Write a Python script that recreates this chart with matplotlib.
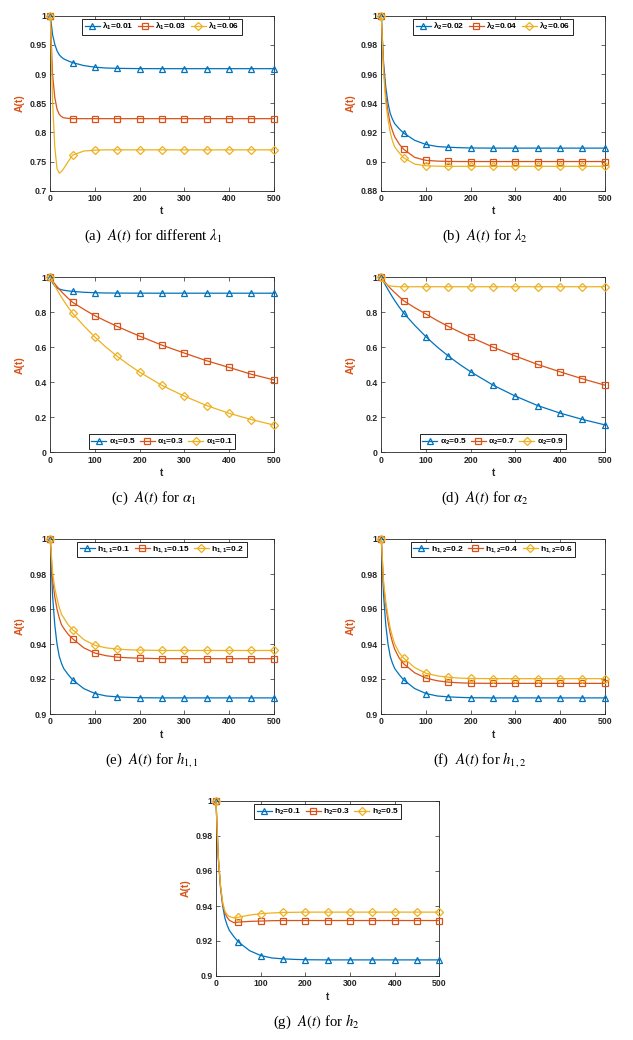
import matplotlib
matplotlib.use("Agg")
import matplotlib.pyplot as plt

plt.rcParams["font.family"] = ["Liberation Sans", "DejaVu Sans"]
plt.rcParams["mathtext.fontset"] = "custom"
plt.rcParams["mathtext.rm"] = "Liberation Sans:bold"
plt.rcParams["mathtext.it"] = "Liberation Sans:italic:bold"
plt.rcParams["mathtext.bf"] = "Liberation Sans:bold"

BLUE, RED, YELLOW = "#0072BD", "#D95319", "#EDB120"
AXC = "#262626"

# time grid, markers sit on the multiples of 50
T = [0, 5, 10, 15, 20, 25, 30, 40, 50, 75, 100, 125, 150, 175, 200,
     250, 300, 350, 400, 450, 500]

# reference curve (blue) shared by several panels
BASE = [1.000, 0.968, 0.951, 0.940, 0.933, 0.929, 0.926, 0.9225, 0.9195,
        0.9145, 0.9117, 0.9103, 0.9098, 0.9095, 0.9093,
        0.9092, 0.9092, 0.9092, 0.9092, 0.9092, 0.9092]

# (a) lambda_1
A_RED = [1.000, 0.900, 0.860, 0.840, 0.831, 0.827, 0.825, 0.824, 0.8235,
         0.8235, 0.8235, 0.8235, 0.8235, 0.8235, 0.8235,
         0.8235, 0.8235, 0.8235, 0.8235, 0.8235, 0.8235]
A_YEL = [1.000, 0.855, 0.775, 0.738, 0.730, 0.733, 0.738, 0.750, 0.761,
         0.768, 0.7695, 0.770, 0.770, 0.770, 0.770,
         0.770, 0.770, 0.770, 0.770, 0.770, 0.770]

# (b) lambda_2
B_RED = [1.000, 0.965, 0.945, 0.934, 0.926, 0.921, 0.917, 0.912, 0.9084,
         0.9028, 0.9008, 0.9003, 0.9001, 0.9000, 0.9000,
         0.9000, 0.9000, 0.9000, 0.9000, 0.9000, 0.9000]
B_YEL = [1.000, 0.962, 0.941, 0.929, 0.920, 0.914, 0.910, 0.906, 0.9026,
         0.8982, 0.8971, 0.8968, 0.8967, 0.8967, 0.8967,
         0.8967, 0.8967, 0.8967, 0.8967, 0.8967, 0.8967]

# (c) alpha_1
C_RED = [1.000, 0.980, 0.963, 0.947, 0.932, 0.918, 0.905, 0.880, 0.857,
         0.817, 0.780, 0.749, 0.719, 0.691, 0.664,
         0.612, 0.567, 0.523, 0.485, 0.446, 0.414]
C_YEL = [1.000, 0.975, 0.952, 0.929, 0.907, 0.886, 0.866, 0.829, 0.794,
         0.723, 0.658, 0.600, 0.548, 0.501, 0.458,
         0.382, 0.321, 0.267, 0.223, 0.187, 0.156]

# (d) alpha_2
D_BLUE = [1.000, 0.975, 0.952, 0.930, 0.908, 0.887, 0.867, 0.830, 0.796,
          0.725, 0.660, 0.602, 0.550, 0.503, 0.460,
          0.384, 0.321, 0.267, 0.224, 0.188, 0.157]
D_RED = [1.000, 0.983, 0.967, 0.952, 0.938, 0.925, 0.913, 0.889, 0.866,
         0.826, 0.790, 0.753, 0.719, 0.688, 0.658,
         0.601, 0.550, 0.502, 0.460, 0.420, 0.384]
D_YEL = [1.000, 0.975, 0.962, 0.955, 0.951, 0.949, 0.948, 0.946, 0.946,
         0.946, 0.946, 0.946, 0.946, 0.946, 0.946,
         0.946, 0.946, 0.946, 0.946, 0.946, 0.946]

# (e) h_{1,1}
E_RED = [1.000, 0.977, 0.967, 0.960, 0.955, 0.951, 0.949, 0.9455, 0.943,
         0.9378, 0.9348, 0.9333, 0.9325, 0.9321, 0.9319,
         0.9316, 0.9316, 0.9316, 0.9316, 0.9316, 0.9316]
E_YEL = [1.000, 0.981, 0.972, 0.966, 0.961, 0.957, 0.955, 0.951, 0.9482,
         0.9425, 0.9392, 0.9378, 0.9371, 0.9367, 0.9365,
         0.9363, 0.9363, 0.9363, 0.9363, 0.9363, 0.9363]

# (f) h_{1,2}
F_RED = [1.000, 0.974, 0.962, 0.953, 0.946, 0.941, 0.937, 0.932, 0.9287,
         0.9235, 0.9205, 0.9190, 0.9182, 0.9178, 0.9176,
         0.9175, 0.9175, 0.9175, 0.9175, 0.9175, 0.9175]
F_YEL = [1.000, 0.976, 0.964, 0.956, 0.949, 0.944, 0.940, 0.935, 0.9319,
         0.9265, 0.9233, 0.9218, 0.9210, 0.9205, 0.9203,
         0.9202, 0.9202, 0.9202, 0.9202, 0.9202, 0.9202]

# (g) h_2
G_RED = [1.000, 0.968, 0.951, 0.941, 0.936, 0.9335, 0.9318, 0.9305, 0.9308,
         0.9312, 0.9314, 0.9316, 0.9317, 0.9317, 0.9317,
         0.9317, 0.9317, 0.9317, 0.9317, 0.9317, 0.9317]
G_YEL = [1.000, 0.969, 0.952, 0.942, 0.937, 0.935, 0.934, 0.9332, 0.9336,
         0.9348, 0.9356, 0.9360, 0.9363, 0.9364, 0.9365,
         0.9365, 0.9365, 0.9365, 0.9365, 0.9365, 0.9365]

W, H = 633, 1040
AX_W, AX_H = 223.4, 175.0

# (left px, top px, ymin, ymax, ystep, legend loc, labels, series, caption, caption x)
PANELS = [
    (50.3, 15.7, 0.7, 1.0, 0.05, "upper center",
     [r"$\mathrm{\lambda_1}$=0.01", r"$\mathrm{\lambda_1}$=0.03", r"$\mathrm{\lambda_1}$=0.06"],
     [BASE, A_RED, A_YEL], r"(a)  $A(t)$ for different $\lambda_1$", 153),
    (381.3, 15.7, 0.88, 1.0, 0.02, "upper center",
     [r"$\mathrm{\lambda_2}$=0.02", r"$\mathrm{\lambda_2}$=0.04", r"$\mathrm{\lambda_2}$=0.06"],
     [BASE, B_RED, B_YEL], r"(b)  $A(t)$ for $\lambda_2$", 485),
    (50.3, 277.3, 0.0, 1.0, 0.2, "lower center",
     [r"$\mathrm{\alpha_1}$=0.5", r"$\mathrm{\alpha_1}$=0.3", r"$\mathrm{\alpha_1}$=0.1"],
     [BASE, C_RED, C_YEL], r"(c)  $A(t)$ for $\alpha_1$", 154),
    (381.3, 277.3, 0.0, 1.0, 0.2, "lower center",
     [r"$\mathrm{\alpha_2}$=0.5", r"$\mathrm{\alpha_2}$=0.7", r"$\mathrm{\alpha_2}$=0.9"],
     [D_BLUE, D_RED, D_YEL], r"(d)  $A(t)$ for $\alpha_2$", 485),
    (50.3, 539.0, 0.9, 1.0, 0.02, "upper center",
     [r"h$_\mathrm{1,1}$=0.1", r"h$_\mathrm{1,1}$=0.15", r"h$_\mathrm{1,1}$=0.2"],
     [BASE, E_RED, E_YEL], r"(e)  $A(t)$ for $h_{1,1}$", 152),
    (381.3, 539.0, 0.9, 1.0, 0.02, "upper center",
     [r"h$_\mathrm{1,2}$=0.2", r"h$_\mathrm{1,2}$=0.4", r"h$_\mathrm{1,2}$=0.6"],
     [BASE, F_RED, F_YEL], r"(f)  $A(t)$ for $h_{1,2}$", 480),
    (216.0, 801.0, 0.9, 1.0, 0.02, "upper center",
     [r"h$_\mathrm{2}$=0.1", r"h$_\mathrm{2}$=0.3", r"h$_\mathrm{2}$=0.5"],
     [BASE, G_RED, G_YEL], r"(g)  $A(t)$ for $h_2$", 316.5),
]

COLORS = [BLUE, RED, YELLOW]
MARKERS = ["^", "s", "D"]
MSIZES = [5, 4.2, 4]
MARK_IDX = [i for i, t in enumerate(T) if t % 50 == 0]

fig = plt.figure(figsize=(W / 100, H / 100), dpi=100)

for left, top, ymin, ymax, ystep, loc, labels, series, caption, cap_x in PANELS:
    ax = fig.add_axes([left / W, 1 - (top + AX_H) / H, AX_W / W, AX_H / H])
    for ys, c, m, ms, lab in zip(series, COLORS, MARKERS, MSIZES, labels):
        ax.plot(T, ys, color=c, lw=0.9, marker=m, ms=ms, mfc="none",
                mew=0.9, markevery=MARK_IDX, label=lab, clip_on=False,
                zorder=3)

    ax.set_xlim(0, 500)
    ax.set_ylim(ymin, ymax)
    ax.set_xticks(range(0, 501, 100))
    n = int(round((ymax - ymin) / ystep))
    yt = [round(ymin + i * ystep, 4) for i in range(n + 1)]
    ax.set_yticks(yt)
    ax.set_yticklabels(["%g" % v for v in yt])
    ax.tick_params(direction="in", top=True, right=True, length=3,
                   width=0.5, labelsize=6.3, pad=2.5, colors=AXC)
    for lab in ax.get_xticklabels() + ax.get_yticklabels():
        lab.set_fontweight("bold")
    for sp in ax.spines.values():
        sp.set_linewidth(0.6)
        sp.set_color(AXC)

    ax.set_xlabel("t", fontsize=7, fontweight="bold", color=AXC)
    ax.set_ylabel("A(t)", fontsize=7.5, fontweight="bold", color=RED)
    ax.xaxis.set_label_coords(0.5, -0.09)
    ax.yaxis.set_label_coords(-0.115, 0.5)

    leg = ax.legend(loc=loc, ncol=3, frameon=True, fancybox=False,
                    prop={"size": 6, "weight": "bold"},
                    framealpha=1, edgecolor="black", handlelength=1.8,
                    handletextpad=0.3, columnspacing=0.5, borderpad=0.3,
                    borderaxespad=0.35)
    leg.get_frame().set_linewidth(0.6)

    fig.text(cap_x / W, 1 - (top + AX_H + 46) / H, caption, ha="center",
             va="center", fontsize=10.6, family="Liberation Serif",
             math_fontfamily="stix")

fig.savefig("out.png", dpi=100)
